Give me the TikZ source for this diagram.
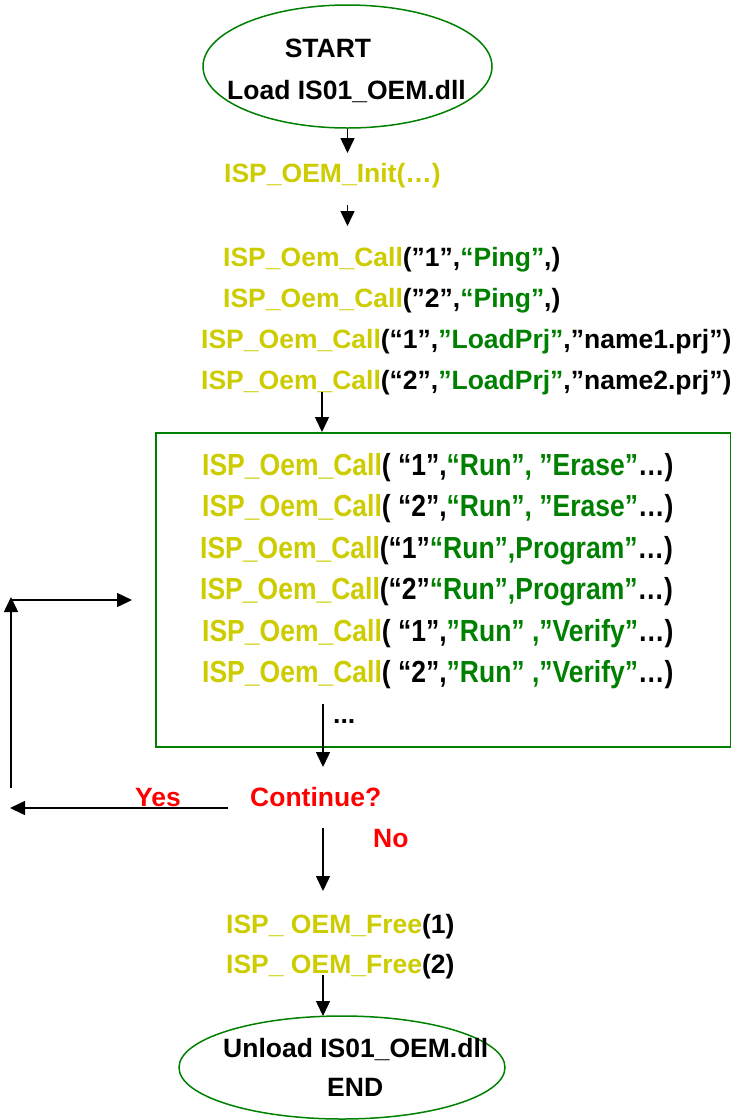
\documentclass[tikz,border=0pt]{standalone}
\usepackage{fontspec}
\setmainfont{Liberation Sans}
\usepackage{graphicx}
\usetikzlibrary{arrows.meta,shapes.geometric}
\definecolor{ylw}{RGB}{204,204,0}
\definecolor{grn}{RGB}{0,128,0}
\definecolor{rd}{RGB}{255,0,0}
\newcommand{\tY}[1]{\textcolor{ylw}{#1}}
\newcommand{\tG}[1]{\textcolor{grn}{#1}}
\newcommand{\tall}[1]{\scalebox{1}[1.15]{#1}}
\begin{document}
\begin{tikzpicture}[x=1pt,y=-1pt,
  txt/.style={inner sep=0pt, anchor=base west, font=\bfseries\fontsize{26.5}{30}\selectfont},
  arr/.style={-{Triangle[length=15pt,width=14pt]}, line width=1.5pt},
  oval/.style={ellipse, draw=grn, line width=1.5pt, inner sep=0pt},
  frame/.style={draw=grn, line width=1.8pt, inner sep=0pt, anchor=north west}]
\useasboundingbox (0,0) rectangle (731,1120);
% start ellipse
\node[oval, minimum width=289pt, minimum height=123pt] (top) at (347.5,66.5) {};
\node[txt, anchor=base] (startlbl) at (328,57) {START};
\node[txt] (loadlbl) at (227,99) {Load IS01\_OEM.dll};
% init
\node[txt] (init) at (224,182) {\tY{ISP\_OEM\_Init(…)}};
% ping / load
\node[txt] (p1) at (223,266) {\tY{ISP\_Oem\_Call}(”1”,\tG{“Ping”},)};
\node[txt] (p2) at (223,307) {\tY{ISP\_Oem\_Call}(”2”,\tG{“Ping”},)};
\node[txt] (l1) at (201,348) {\tY{ISP\_Oem\_Call}(“1”,\tG{”LoadPrj”},”name1.prj”)};
\node[txt] (l2) at (201,389) {\tY{ISP\_Oem\_Call}(“2”,\tG{”LoadPrj”},”name2.prj”)};
% box
\node[frame, minimum width=575pt, minimum height=314pt] (box) at (155,432) {};
\node[txt] (r1) at (202,475) {\tall{\tY{ISP\_Oem\_Call}( “1”,\tG{“Run”, ”Erase”}…)}};
\node[txt] (r2) at (202,516) {\tall{\tY{ISP\_Oem\_Call}( “2”,\tG{“Run”, ”Erase”}…)}};
\node[txt] (r3) at (200,558) {\tall{\tY{ISP\_Oem\_Call}(“1”\tG{“Run”,Program”}…)}};
\node[txt] (r4) at (200,599) {\tall{\tY{ISP\_Oem\_Call}(“2”\tG{“Run”,Program”}…)}};
\node[txt] (r5) at (202,641) {\tall{\tY{ISP\_Oem\_Call}( “1”,\tG{”Run” ,”Verify”}…)}};
\node[txt] (r6) at (202,682) {\tall{\tY{ISP\_Oem\_Call}( “2”,\tG{”Run” ,”Verify”}…)}};
\node[txt] (dots) at (333,723) {...};
% decision
\node[txt, text=rd] (cont) at (250,806) {Continue?};
\node[txt, text=rd] (yes) at (135,806) {Yes};
\node[txt, text=rd] (no) at (373,847) {No};
% free
\node[txt] (f1) at (226,933) {\tY{ISP\_ OEM\_Free}(1)};
\node[txt] (f2) at (226,973) {\tY{ISP\_ OEM\_Free}(2)};
% end ellipse
\node[oval, minimum width=326pt, minimum height=103pt] (bot) at (342,1067.5) {};
\node[txt] (unloadlbl) at (223,1057) {Unload IS01\_OEM.dll};
\node[txt] (endlbl) at (327,1096) {END};
% connector coordinates
\coordinate (a1e) at (347.5,153);
\coordinate (a2s) at (347.5,205);
\coordinate (a2e) at (347.5,226);
\coordinate (a3s) at (322,392);
\coordinate (a3e) at (322,432);
\coordinate (a4s) at (323,704);
\coordinate (a4e) at (323,767);
\coordinate (a5s) at (323,828);
\coordinate (a5e) at (323,891);
\coordinate (a6s) at (323,975);
\coordinate (a6e) at (323,1016);
\coordinate (ys) at (228,808);
\coordinate (ye) at (10,808);
\coordinate (us) at (11,788);
\coordinate (ue) at (11,597);
\coordinate (rs) at (11,600);
\coordinate (re) at (132,600);
\draw[arr] (top.south) -- (a1e);
\draw[arr] (a2s) -- (a2e);
\draw[arr] (a3s) -- (a3e);
\draw[arr] (a4s) -- (a4e);
\draw[arr] (a5s) -- (a5e);
\draw[arr] (a6s) -- (a6e);
\draw[arr] (ys) -- (ye);
\draw[arr] (us) -- (ue);
\draw[arr] (rs) -- (re);
\end{tikzpicture}
\end{document}
